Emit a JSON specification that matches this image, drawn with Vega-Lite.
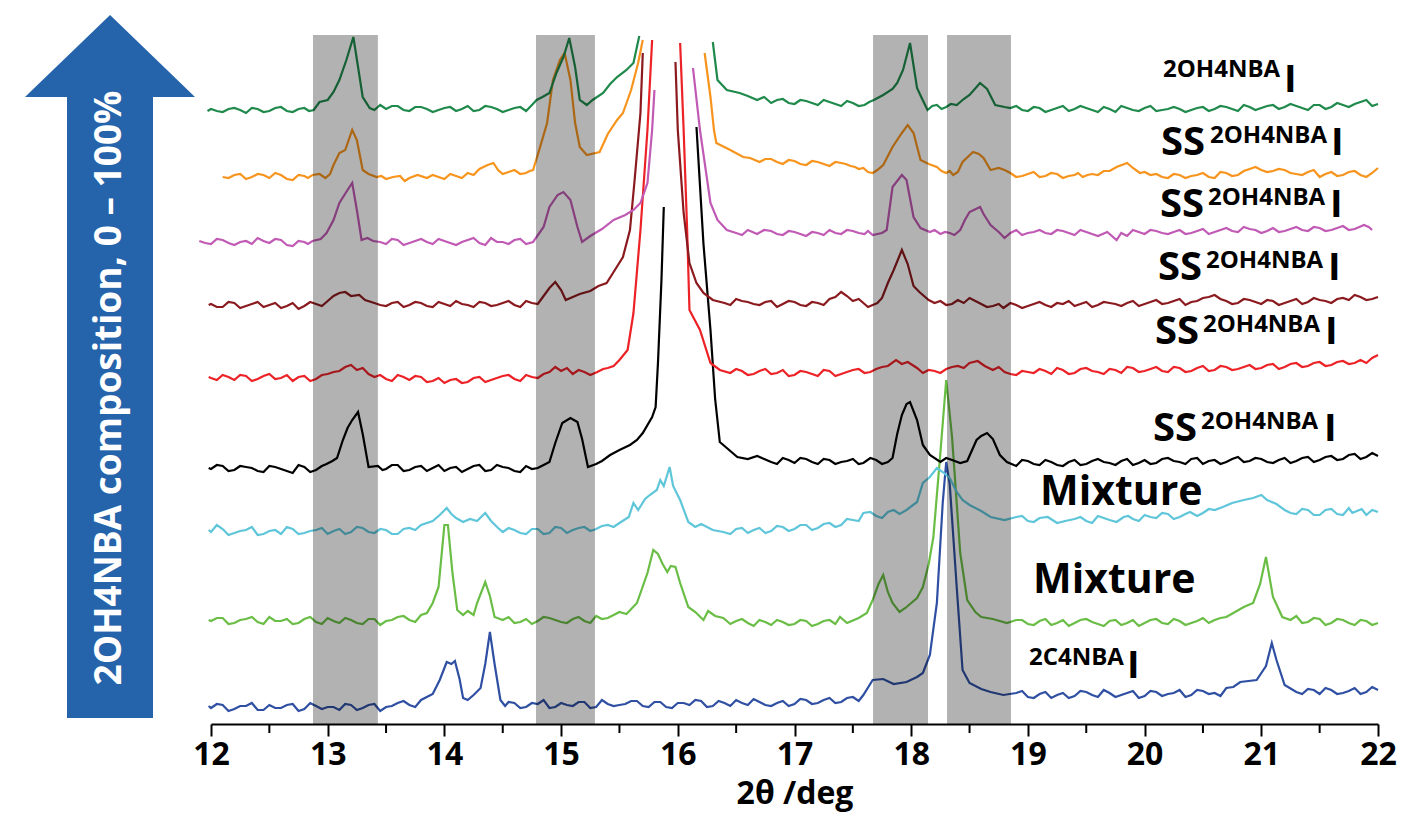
{
"$schema":"https://vega.github.io/schema/vega-lite/v6.json",
"width":1167,"height":689,
"autosize":{"type":"none"},
"padding":{"left":211,"top":35,"right":27,"bottom":91},
"config":{"view":{"stroke":null},"font":"Open Sans"},
"datasets":{
"b":[{"x":11.98,"y":18},{"x":12,"y":16},{"x":12.1,"y":19},{"x":12.2,"y":15},{"x":12.3,"y":18},{"x":12.4,"y":14},{"x":12.5,"y":19},{"x":12.6,"y":16},{"x":12.7,"y":20},{"x":12.8,"y":15},{"x":12.9,"y":18},{"x":13,"y":17},{"x":13.1,"y":14},{"x":13.2,"y":19},{"x":13.3,"y":16},{"x":13.4,"y":20},{"x":13.5,"y":17},{"x":13.6,"y":21},{"x":13.7,"y":19},{"x":13.8,"y":24},{"x":13.9,"y":30},{"x":13.96,"y":44},{"x":14.02,"y":62},{"x":14.06,"y":60},{"x":14.09,"y":63},{"x":14.13,"y":45},{"x":14.16,"y":26},{"x":14.2,"y":24},{"x":14.25,"y":29},{"x":14.31,"y":36},{"x":14.35,"y":60},{"x":14.39,"y":92},{"x":14.43,"y":60},{"x":14.48,"y":24},{"x":14.52,"y":18},{"x":14.6,"y":21},{"x":14.7,"y":17},{"x":14.8,"y":20},{"x":14.9,"y":16},{"x":15,"y":21},{"x":15.1,"y":18},{"x":15.2,"y":22},{"x":15.3,"y":17},{"x":15.4,"y":20},{"x":15.5,"y":19},{"x":15.6,"y":23},{"x":15.7,"y":18},{"x":15.8,"y":22},{"x":15.9,"y":17},{"x":16,"y":21},{"x":16.1,"y":19},{"x":16.2,"y":23},{"x":16.3,"y":18},{"x":16.4,"y":21},{"x":16.5,"y":24},{"x":16.6,"y":19},{"x":16.7,"y":22},{"x":16.8,"y":18},{"x":16.9,"y":23},{"x":17,"y":20},{"x":17.1,"y":24},{"x":17.2,"y":21},{"x":17.3,"y":26},{"x":17.4,"y":22},{"x":17.5,"y":27},{"x":17.59,"y":29},{"x":17.67,"y":44},{"x":17.76,"y":45},{"x":17.85,"y":40},{"x":17.96,"y":42},{"x":18.05,"y":47},{"x":18.1,"y":51},{"x":18.16,"y":69},{"x":18.22,"y":121},{"x":18.27,"y":221},{"x":18.3,"y":262},{"x":18.33,"y":240},{"x":18.39,"y":137},{"x":18.44,"y":54},{"x":18.5,"y":41},{"x":18.6,"y":35},{"x":18.68,"y":32},{"x":18.79,"y":29},{"x":18.9,"y":31},{"x":19,"y":27},{"x":19.1,"y":30},{"x":19.2,"y":26},{"x":19.3,"y":31},{"x":19.4,"y":28},{"x":19.5,"y":32},{"x":19.6,"y":27},{"x":19.7,"y":31},{"x":19.8,"y":29},{"x":19.9,"y":33},{"x":20,"y":28},{"x":20.1,"y":32},{"x":20.2,"y":30},{"x":20.3,"y":34},{"x":20.4,"y":29},{"x":20.5,"y":33},{"x":20.6,"y":31},{"x":20.7,"y":36},{"x":20.82,"y":42},{"x":20.96,"y":44},{"x":21.04,"y":58},{"x":21.09,"y":81},{"x":21.13,"y":64},{"x":21.2,"y":39},{"x":21.3,"y":32},{"x":21.4,"y":35},{"x":21.5,"y":30},{"x":21.6,"y":34},{"x":21.7,"y":31},{"x":21.8,"y":36},{"x":21.9,"y":32},{"x":21.95,"y":37},{"x":22,"y":34},
{"x":12.05,"y":20},{"x":12.15,"y":13},{"x":12.25,"y":18},{"x":12.35,"y":21},{"x":12.45,"y":14},{"x":12.55,"y":16},{"x":12.65,"y":19},{"x":12.75,"y":13},{"x":12.85,"y":21},{"x":12.95,"y":15},{"x":13.05,"y":17},{"x":13.15,"y":20},{"x":13.25,"y":14},{"x":13.35,"y":19},{"x":13.45,"y":13},{"x":13.55,"y":18},{"x":13.65,"y":23},{"x":13.75,"y":17},{"x":14.55,"y":22},{"x":14.65,"y":16},{"x":14.75,"y":21},{"x":14.85,"y":24},{"x":14.95,"y":17},{"x":15.05,"y":19},{"x":15.15,"y":22},{"x":15.25,"y":16},{"x":15.35,"y":24},{"x":15.45,"y":18},{"x":15.55,"y":20},{"x":15.65,"y":23},{"x":15.75,"y":17},{"x":15.85,"y":22},{"x":15.95,"y":16},{"x":16.05,"y":21},{"x":16.15,"y":24},{"x":16.25,"y":17},{"x":16.35,"y":23},{"x":16.45,"y":18},{"x":16.55,"y":21},{"x":16.65,"y":25},{"x":16.75,"y":19},{"x":16.85,"y":21},{"x":16.95,"y":18},{"x":17.05,"y":25},{"x":17.15,"y":20},{"x":17.25,"y":24},{"x":17.35,"y":21},{"x":17.45,"y":26},{"x":17.55,"y":23},{"x":18.95,"y":33},{"x":19.05,"y":26},{"x":19.15,"y":32},{"x":19.25,"y":29},{"x":19.35,"y":26},{"x":19.45,"y":33},{"x":19.55,"y":29},{"x":19.65,"y":34},{"x":19.75,"y":27},{"x":19.85,"y":31},{"x":19.95,"y":26},{"x":20.05,"y":33},{"x":20.15,"y":28},{"x":20.25,"y":31},{"x":20.35,"y":27},{"x":20.45,"y":34},{"x":20.55,"y":30},{"x":20.65,"y":28},{"x":20.76,"y":37},{"x":21.35,"y":30},{"x":21.45,"y":34},{"x":21.55,"y":36},{"x":21.65,"y":30},{"x":21.75,"y":33},{"x":21.85,"y":30}],
"lg":[{"x":11.98,"y":104},{"x":12,"y":103},{"x":12.1,"y":106},{"x":12.2,"y":101},{"x":12.3,"y":105},{"x":12.4,"y":102},{"x":12.5,"y":107},{"x":12.6,"y":103},{"x":12.7,"y":100},{"x":12.8,"y":105},{"x":12.9,"y":102},{"x":13,"y":106},{"x":13.1,"y":101},{"x":13.2,"y":104},{"x":13.3,"y":100},{"x":13.4,"y":105},{"x":13.5,"y":103},{"x":13.6,"y":107},{"x":13.7,"y":104},{"x":13.8,"y":109},{"x":13.85,"y":111},{"x":13.9,"y":121},{"x":13.95,"y":137},{"x":14,"y":199},{"x":14.03,"y":199},{"x":14.07,"y":150},{"x":14.11,"y":114},{"x":14.16,"y":109},{"x":14.2,"y":113},{"x":14.25,"y":109},{"x":14.28,"y":121},{"x":14.35,"y":142},{"x":14.39,"y":128},{"x":14.43,"y":107},{"x":14.5,"y":104},{"x":14.6,"y":101},{"x":14.7,"y":105},{"x":14.8,"y":103},{"x":14.9,"y":106},{"x":15,"y":102},{"x":15.1,"y":105},{"x":15.2,"y":103},{"x":15.3,"y":108},{"x":15.4,"y":106},{"x":15.5,"y":112},{"x":15.56,"y":110},{"x":15.65,"y":121},{"x":15.74,"y":151},{"x":15.79,"y":174},{"x":15.83,"y":170},{"x":15.87,"y":160},{"x":15.91,"y":152},{"x":15.94,"y":158},{"x":15.98,"y":157},{"x":16.02,"y":141},{"x":16.09,"y":117},{"x":16.15,"y":112},{"x":16.22,"y":104},{"x":16.26,"y":113},{"x":16.32,"y":108},{"x":16.39,"y":106},{"x":16.5,"y":103},{"x":16.6,"y":101},{"x":16.7,"y":104},{"x":16.8,"y":99},{"x":16.9,"y":102},{"x":17,"y":100},{"x":17.1,"y":103},{"x":17.2,"y":100},{"x":17.3,"y":104},{"x":17.39,"y":107},{"x":17.45,"y":101},{"x":17.55,"y":106},{"x":17.62,"y":111},{"x":17.67,"y":124},{"x":17.72,"y":140},{"x":17.76,"y":149},{"x":17.8,"y":132},{"x":17.84,"y":121},{"x":17.9,"y":112},{"x":17.95,"y":116},{"x":18,"y":121},{"x":18.05,"y":126},{"x":18.1,"y":137},{"x":18.15,"y":160},{"x":18.19,"y":187},{"x":18.25,"y":271},{"x":18.3,"y":344},{"x":18.35,"y":287},{"x":18.42,"y":171},{"x":18.48,"y":124},{"x":18.55,"y":112},{"x":18.6,"y":107},{"x":18.7,"y":105},{"x":18.82,"y":101},{"x":18.9,"y":104},{"x":19,"y":100},{"x":19.1,"y":103},{"x":19.2,"y":99},{"x":19.3,"y":104},{"x":19.4,"y":101},{"x":19.5,"y":105},{"x":19.6,"y":100},{"x":19.7,"y":103},{"x":19.8,"y":99},{"x":19.9,"y":104},{"x":20,"y":101},{"x":20.1,"y":105},{"x":20.2,"y":100},{"x":20.3,"y":103},{"x":20.4,"y":101},{"x":20.5,"y":106},{"x":20.6,"y":104},{"x":20.7,"y":107},{"x":20.76,"y":111},{"x":20.85,"y":117},{"x":20.93,"y":121},{"x":20.99,"y":140},{"x":21.04,"y":167},{"x":21.1,"y":127},{"x":21.18,"y":107},{"x":21.25,"y":104},{"x":21.3,"y":108},{"x":21.4,"y":102},{"x":21.5,"y":105},{"x":21.6,"y":101},{"x":21.7,"y":104},{"x":21.8,"y":99},{"x":21.9,"y":103},{"x":22,"y":101},
{"x":12.05,"y":106},{"x":12.15,"y":100},{"x":12.25,"y":104},{"x":12.35,"y":107},{"x":12.45,"y":100},{"x":12.55,"y":103},{"x":12.65,"y":105},{"x":12.75,"y":101},{"x":12.85,"y":107},{"x":12.95,"y":100},{"x":13.05,"y":103},{"x":13.15,"y":106},{"x":13.25,"y":101},{"x":13.35,"y":105},{"x":13.45,"y":99},{"x":13.55,"y":104},{"x":13.65,"y":108},{"x":13.75,"y":102},{"x":14.55,"y":107},{"x":14.65,"y":102},{"x":14.75,"y":100},{"x":14.85,"y":107},{"x":14.95,"y":104},{"x":15.05,"y":101},{"x":15.15,"y":107},{"x":15.25,"y":101},{"x":15.35,"y":105},{"x":15.45,"y":109},{"x":16.45,"y":100},{"x":16.55,"y":105},{"x":16.65,"y":98},{"x":16.75,"y":102},{"x":16.85,"y":104},{"x":16.95,"y":99},{"x":17.05,"y":104},{"x":17.15,"y":98},{"x":17.25,"y":103},{"x":17.35,"y":100},{"x":18.95,"y":104},{"x":19.05,"y":99},{"x":19.15,"y":105},{"x":19.25,"y":101},{"x":19.35,"y":98},{"x":19.45,"y":104},{"x":19.55,"y":102},{"x":19.65,"y":98},{"x":19.75,"y":104},{"x":19.85,"y":101},{"x":19.95,"y":98},{"x":20.05,"y":104},{"x":20.15,"y":101},{"x":20.25,"y":105},{"x":20.35,"y":99},{"x":20.45,"y":103},{"x":20.55,"y":101},{"x":20.65,"y":106},{"x":21.35,"y":101},{"x":21.45,"y":106},{"x":21.55,"y":99},{"x":21.65,"y":105},{"x":21.75,"y":101},{"x":21.85,"y":104},{"x":21.95,"y":99}],
"c":[{"x":11.98,"y":194},{"x":12,"y":192},{"x":12.05,"y":199},{"x":12.1,"y":195},{"x":12.2,"y":191},{"x":12.3,"y":194},{"x":12.4,"y":189},{"x":12.5,"y":193},{"x":12.6,"y":190},{"x":12.7,"y":195},{"x":12.8,"y":191},{"x":12.9,"y":194},{"x":13,"y":190},{"x":13.1,"y":195},{"x":13.2,"y":192},{"x":13.3,"y":196},{"x":13.4,"y":191},{"x":13.5,"y":194},{"x":13.6,"y":190},{"x":13.7,"y":196},{"x":13.8,"y":199},{"x":13.9,"y":203},{"x":13.96,"y":209},{"x":14.02,"y":216},{"x":14.06,"y":210},{"x":14.1,"y":206},{"x":14.16,"y":202},{"x":14.22,"y":205},{"x":14.28,"y":203},{"x":14.35,"y":211},{"x":14.4,"y":203},{"x":14.46,"y":196},{"x":14.5,"y":192},{"x":14.6,"y":194},{"x":14.7,"y":190},{"x":14.8,"y":195},{"x":14.9,"y":191},{"x":15,"y":196},{"x":15.1,"y":194},{"x":15.2,"y":197},{"x":15.3,"y":195},{"x":15.4,"y":199},{"x":15.5,"y":201},{"x":15.58,"y":207},{"x":15.62,"y":221},{"x":15.66,"y":214},{"x":15.72,"y":225},{"x":15.76,"y":229},{"x":15.82,"y":234},{"x":15.85,"y":244},{"x":15.88,"y":238},{"x":15.93,"y":257},{"x":15.96,"y":238},{"x":16.02,"y":224},{"x":16.09,"y":202},{"x":16.15,"y":197},{"x":16.2,"y":200},{"x":16.3,"y":194},{"x":16.39,"y":192},{"x":16.5,"y":195},{"x":16.6,"y":191},{"x":16.7,"y":196},{"x":16.8,"y":193},{"x":16.9,"y":197},{"x":17,"y":195},{"x":17.1,"y":199},{"x":17.2,"y":196},{"x":17.3,"y":201},{"x":17.4,"y":199},{"x":17.5,"y":204},{"x":17.59,"y":211},{"x":17.7,"y":208},{"x":17.8,"y":212},{"x":17.9,"y":210},{"x":17.96,"y":214},{"x":18.05,"y":222},{"x":18.1,"y":241},{"x":18.16,"y":247},{"x":18.22,"y":256},{"x":18.27,"y":252},{"x":18.33,"y":246},{"x":18.39,"y":232},{"x":18.44,"y":224},{"x":18.5,"y":219},{"x":18.6,"y":213},{"x":18.68,"y":207},{"x":18.8,"y":204},{"x":18.9,"y":207},{"x":19,"y":203},{"x":19.1,"y":206},{"x":19.25,"y":201},{"x":19.4,"y":205},{"x":19.5,"y":203},{"x":19.6,"y":208},{"x":19.7,"y":204},{"x":19.82,"y":207},{"x":19.9,"y":205},{"x":20,"y":209},{"x":20.1,"y":206},{"x":20.2,"y":210},{"x":20.3,"y":207},{"x":20.39,"y":212},{"x":20.5,"y":211},{"x":20.6,"y":214},{"x":20.67,"y":217},{"x":20.75,"y":221},{"x":20.85,"y":224},{"x":20.93,"y":226},{"x":21,"y":229},{"x":21.05,"y":224},{"x":21.13,"y":220},{"x":21.2,"y":214},{"x":21.25,"y":211},{"x":21.35,"y":215},{"x":21.45,"y":209},{"x":21.55,"y":214},{"x":21.65,"y":210},{"x":21.75,"y":216},{"x":21.82,"y":213},{"x":21.9,"y":209},{"x":22,"y":212},
{"x":12.15,"y":189},{"x":12.25,"y":193},{"x":12.35,"y":197},{"x":12.45,"y":190},{"x":12.55,"y":194},{"x":12.65,"y":197},{"x":12.75,"y":190},{"x":12.85,"y":193},{"x":12.95,"y":196},{"x":13.05,"y":193},{"x":13.15,"y":190},{"x":13.25,"y":197},{"x":13.35,"y":192},{"x":13.45,"y":195},{"x":13.55,"y":190},{"x":13.65,"y":195},{"x":13.75,"y":194},{"x":14.55,"y":196},{"x":14.65,"y":191},{"x":14.75,"y":195},{"x":14.85,"y":190},{"x":14.95,"y":197},{"x":15.05,"y":191},{"x":15.15,"y":196},{"x":15.25,"y":193},{"x":15.35,"y":198},{"x":15.45,"y":197},{"x":16.45,"y":190},{"x":16.55,"y":196},{"x":16.65,"y":194},{"x":16.75,"y":191},{"x":16.85,"y":198},{"x":16.95,"y":193},{"x":17.05,"y":199},{"x":17.15,"y":194},{"x":17.25,"y":200},{"x":17.35,"y":197},{"x":17.45,"y":205},{"x":17.55,"y":203},{"x":17.65,"y":212},{"x":17.75,"y":206},{"x":17.85,"y":214},{"x":18.95,"y":208},{"x":19.05,"y":202},{"x":19.17,"y":207},{"x":19.32,"y":203},{"x":19.45,"y":207},{"x":19.55,"y":201},{"x":19.65,"y":206},{"x":19.76,"y":202},{"x":19.86,"y":208},{"x":19.95,"y":203},{"x":20.05,"y":207},{"x":20.15,"y":211},{"x":20.25,"y":205},{"x":20.35,"y":210},{"x":20.45,"y":208},{"x":20.55,"y":215},{"x":21.3,"y":210},{"x":21.4,"y":214},{"x":21.5,"y":209},{"x":21.6,"y":215},{"x":21.7,"y":209},{"x":21.78,"y":211},{"x":21.86,"y":215},{"x":21.95,"y":214}],
"k":[{"x":11.98,"y":256},{"x":12,"y":255},{"x":12.1,"y":258},{"x":12.2,"y":254},{"x":12.3,"y":257},{"x":12.4,"y":253},{"x":12.5,"y":258},{"x":12.6,"y":255},{"x":12.7,"y":251},{"x":12.8,"y":257},{"x":12.9,"y":254},{"x":12.99,"y":260},{"x":13.04,"y":263},{"x":13.08,"y":266},{"x":13.13,"y":284},{"x":13.17,"y":296},{"x":13.21,"y":304},{"x":13.26,"y":312},{"x":13.3,"y":290},{"x":13.35,"y":257},{"x":13.43,"y":258},{"x":13.5,"y":255},{"x":13.6,"y":259},{"x":13.7,"y":254},{"x":13.8,"y":258},{"x":13.9,"y":256},{"x":14,"y":253},{"x":14.1,"y":257},{"x":14.2,"y":255},{"x":14.3,"y":259},{"x":14.4,"y":254},{"x":14.5,"y":257},{"x":14.6,"y":253},{"x":14.7,"y":258},{"x":14.8,"y":256},{"x":14.9,"y":262},{"x":14.95,"y":281},{"x":15.01,"y":301},{"x":15.08,"y":306},{"x":15.14,"y":302},{"x":15.18,"y":285},{"x":15.23,"y":257},{"x":15.3,"y":260},{"x":15.35,"y":263},{"x":15.42,"y":269},{"x":15.5,"y":274},{"x":15.59,"y":279},{"x":15.65,"y":284},{"x":15.7,"y":291},{"x":15.78,"y":307},{"x":15.81,"y":317},{"x":15.83,"y":361},{"x":15.86,"y":444},{"x":15.88,"y":517},
{"x":12.05,"y":259},{"x":12.15,"y":253},{"x":12.25,"y":258},{"x":12.35,"y":256},{"x":12.45,"y":252},{"x":12.55,"y":257},{"x":12.65,"y":253},{"x":12.75,"y":259},{"x":12.85,"y":252},{"x":12.95,"y":258},{"x":13.47,"y":254},{"x":13.55,"y":259},{"x":13.65,"y":253},{"x":13.75,"y":257},{"x":13.85,"y":253},{"x":13.95,"y":259},{"x":14.05,"y":256},{"x":14.15,"y":252},{"x":14.25,"y":258},{"x":14.35,"y":253},{"x":14.45,"y":259},{"x":14.55,"y":256},{"x":14.65,"y":252},{"x":14.75,"y":255},{"x":14.85,"y":259},
{"x":16.16,"y":597,"p":1},{"x":16.22,"y":480,"p":1},{"x":16.28,"y":394,"p":1},{"x":16.32,"y":325,"p":1},{"x":16.36,"y":282,"p":1},{"x":16.42,"y":276,"p":1},{"x":16.51,"y":267,"p":1},{"x":16.6,"y":265,"p":1},{"x":16.68,"y":268,"p":1},{"x":16.8,"y":262,"p":1},{"x":16.9,"y":266,"p":1},{"x":17,"y":261,"p":1},{"x":17.1,"y":265,"p":1},{"x":17.2,"y":260,"p":1},{"x":17.3,"y":264,"p":1},{"x":17.4,"y":262,"p":1},{"x":17.5,"y":265,"p":1},{"x":17.59,"y":261,"p":1},{"x":17.7,"y":264,"p":1},{"x":17.8,"y":262,"p":1},{"x":17.84,"y":266,"p":1},{"x":17.88,"y":290,"p":1},{"x":17.92,"y":309,"p":1},{"x":17.96,"y":320,"p":1},{"x":17.99,"y":322,"p":1},{"x":18.05,"y":304,"p":1},{"x":18.1,"y":279,"p":1},{"x":18.16,"y":269,"p":1},{"x":18.25,"y":262,"p":1},{"x":18.35,"y":264,"p":1},{"x":18.48,"y":263,"p":1},{"x":18.56,"y":284,"p":1},{"x":18.6,"y":288,"p":1},{"x":18.65,"y":291,"p":1},{"x":18.7,"y":285,"p":1},{"x":18.76,"y":269,"p":1},{"x":18.82,"y":262,"p":1},{"x":18.9,"y":258,"p":1},{"x":19,"y":263,"p":1},{"x":19.1,"y":259,"p":1},{"x":19.2,"y":262,"p":1},{"x":19.3,"y":258,"p":1},{"x":19.4,"y":264,"p":1},{"x":19.5,"y":260,"p":1},{"x":19.6,"y":265,"p":1},{"x":19.7,"y":261,"p":1},{"x":19.8,"y":263,"p":1},{"x":19.9,"y":259,"p":1},{"x":20,"y":264,"p":1},{"x":20.1,"y":261,"p":1},{"x":20.2,"y":266,"p":1},{"x":20.3,"y":262,"p":1},{"x":20.4,"y":265,"p":1},{"x":20.5,"y":260,"p":1},{"x":20.6,"y":264,"p":1},{"x":20.7,"y":262,"p":1},{"x":20.8,"y":267,"p":1},{"x":20.9,"y":263,"p":1},{"x":21,"y":265,"p":1},{"x":21.1,"y":261,"p":1},{"x":21.2,"y":266,"p":1},{"x":21.3,"y":263,"p":1},{"x":21.4,"y":267,"p":1},{"x":21.5,"y":264,"p":1},{"x":21.6,"y":268,"p":1},{"x":21.7,"y":265,"p":1},{"x":21.8,"y":270,"p":1},{"x":21.9,"y":267,"p":1},{"x":22,"y":268,"p":1},
{"x":16.74,"y":265,"p":1},{"x":16.85,"y":260,"p":1},{"x":16.95,"y":264,"p":1},{"x":17.05,"y":266,"p":1},{"x":17.15,"y":262,"p":1},{"x":17.25,"y":265,"p":1},{"x":17.35,"y":260,"p":1},{"x":17.45,"y":263,"p":1},{"x":17.55,"y":260,"p":1},{"x":17.65,"y":266,"p":1},{"x":17.75,"y":260,"p":1},{"x":18.3,"y":266,"p":1},{"x":18.42,"y":261,"p":1},{"x":18.95,"y":264,"p":1},{"x":19.05,"y":260,"p":1},{"x":19.15,"y":264,"p":1},{"x":19.25,"y":259,"p":1},{"x":19.35,"y":262,"p":1},{"x":19.45,"y":259,"p":1},{"x":19.55,"y":263,"p":1},{"x":19.65,"y":262,"p":1},{"x":19.75,"y":259,"p":1},{"x":19.85,"y":265,"p":1},{"x":19.95,"y":261,"p":1},{"x":20.05,"y":260,"p":1},{"x":20.15,"y":265,"p":1},{"x":20.25,"y":263,"p":1},{"x":20.35,"y":260,"p":1},{"x":20.45,"y":266,"p":1},{"x":20.55,"y":263,"p":1},{"x":20.65,"y":260,"p":1},{"x":20.75,"y":265,"p":1},{"x":20.85,"y":262,"p":1},{"x":20.95,"y":266,"p":1},{"x":21.05,"y":262,"p":1},{"x":21.15,"y":264,"p":1},{"x":21.25,"y":261,"p":1},{"x":21.35,"y":266,"p":1},{"x":21.45,"y":262,"p":1},{"x":21.55,"y":267,"p":1},{"x":21.65,"y":264,"p":1},{"x":21.75,"y":269,"p":1},{"x":21.85,"y":265,"p":1},{"x":21.95,"y":271,"p":1}],
"r":[{"x":11.98,"y":347},{"x":12,"y":346},{"x":12.1,"y":349},{"x":12.2,"y":344},{"x":12.3,"y":348},{"x":12.4,"y":345},{"x":12.5,"y":350},{"x":12.6,"y":346},{"x":12.7,"y":343},{"x":12.8,"y":348},{"x":12.9,"y":345},{"x":13,"y":350},{"x":13.1,"y":353},{"x":13.15,"y":357},{"x":13.2,"y":359},{"x":13.25,"y":354},{"x":13.3,"y":356},{"x":13.35,"y":350},{"x":13.4,"y":347},{"x":13.5,"y":345},{"x":13.6,"y":349},{"x":13.7,"y":344},{"x":13.8,"y":347},{"x":13.9,"y":343},{"x":14,"y":341},{"x":14.1,"y":345},{"x":14.2,"y":342},{"x":14.3,"y":347},{"x":14.4,"y":344},{"x":14.5,"y":348},{"x":14.6,"y":345},{"x":14.7,"y":349},{"x":14.8,"y":346},{"x":14.9,"y":352},{"x":14.95,"y":357},{"x":15,"y":353},{"x":15.05,"y":356},{"x":15.1,"y":350},{"x":15.2,"y":352},{"x":15.31,"y":352},{"x":15.4,"y":356},{"x":15.5,"y":364},{"x":15.57,"y":374},{"x":15.62,"y":411},{"x":15.68,"y":494},{"x":15.74,"y":594},{"x":15.78,"y":684},
{"x":12.05,"y":344},{"x":12.15,"y":347},{"x":12.25,"y":349},{"x":12.35,"y":343},{"x":12.45,"y":348},{"x":12.55,"y":345},{"x":12.65,"y":349},{"x":12.75,"y":347},{"x":12.85,"y":343},{"x":12.95,"y":349},{"x":13.05,"y":352},{"x":13.45,"y":349},{"x":13.55,"y":343},{"x":13.65,"y":347},{"x":13.75,"y":348},{"x":13.85,"y":342},{"x":13.95,"y":346},{"x":14.05,"y":344},{"x":14.15,"y":341},{"x":14.25,"y":346},{"x":14.35,"y":342},{"x":14.45,"y":346},{"x":14.55,"y":349},{"x":14.65,"y":343},{"x":14.75,"y":347},{"x":14.85,"y":350},{"x":15.15,"y":354},{"x":15.25,"y":349},{"x":15.36,"y":355},{"x":15.45,"y":358},
{"x":16.02,"y":681,"p":1},{"x":16.05,"y":594,"p":1},{"x":16.08,"y":494,"p":1},{"x":16.1,"y":414,"p":1},{"x":16.19,"y":394,"p":1},{"x":16.28,"y":361,"p":1},{"x":16.36,"y":354,"p":1},{"x":16.45,"y":351,"p":1},{"x":16.5,"y":355,"p":1},{"x":16.6,"y":349,"p":1},{"x":16.7,"y":353,"p":1},{"x":16.8,"y":350,"p":1},{"x":16.9,"y":354,"p":1},{"x":17,"y":349,"p":1},{"x":17.1,"y":352,"p":1},{"x":17.2,"y":348,"p":1},{"x":17.3,"y":353,"p":1},{"x":17.4,"y":350,"p":1},{"x":17.5,"y":354,"p":1},{"x":17.6,"y":351,"p":1},{"x":17.7,"y":355,"p":1},{"x":17.8,"y":358,"p":1},{"x":17.87,"y":364,"p":1},{"x":17.92,"y":360,"p":1},{"x":17.97,"y":362,"p":1},{"x":18.05,"y":356,"p":1},{"x":18.1,"y":351,"p":1},{"x":18.2,"y":353,"p":1},{"x":18.3,"y":355,"p":1},{"x":18.4,"y":358,"p":1},{"x":18.5,"y":361,"p":1},{"x":18.57,"y":363,"p":1},{"x":18.63,"y":358,"p":1},{"x":18.7,"y":354,"p":1},{"x":18.8,"y":352,"p":1},{"x":18.9,"y":349,"p":1},{"x":19,"y":352,"p":1},{"x":19.1,"y":355,"p":1},{"x":19.2,"y":350,"p":1},{"x":19.3,"y":354,"p":1},{"x":19.4,"y":351,"p":1},{"x":19.5,"y":356,"p":1},{"x":19.6,"y":352,"p":1},{"x":19.7,"y":355,"p":1},{"x":19.8,"y":351,"p":1},{"x":19.9,"y":356,"p":1},{"x":20,"y":353,"p":1},{"x":20.1,"y":357,"p":1},{"x":20.2,"y":352,"p":1},{"x":20.3,"y":356,"p":1},{"x":20.4,"y":353,"p":1},{"x":20.5,"y":358,"p":1},{"x":20.6,"y":354,"p":1},{"x":20.7,"y":357,"p":1},{"x":20.8,"y":355,"p":1},{"x":20.9,"y":359,"p":1},{"x":21,"y":356,"p":1},{"x":21.1,"y":360,"p":1},{"x":21.2,"y":357,"p":1},{"x":21.3,"y":361,"p":1},{"x":21.4,"y":358,"p":1},{"x":21.5,"y":362,"p":1},{"x":21.6,"y":359,"p":1},{"x":21.7,"y":363,"p":1},{"x":21.8,"y":361,"p":1},{"x":21.85,"y":364,"p":1},{"x":21.9,"y":361,"p":1},{"x":21.95,"y":366,"p":1},{"x":22,"y":369,"p":1},
{"x":16.55,"y":353,"p":1},{"x":16.65,"y":350,"p":1},{"x":16.75,"y":355,"p":1},{"x":16.85,"y":351,"p":1},{"x":16.95,"y":348,"p":1},{"x":17.05,"y":353,"p":1},{"x":17.15,"y":350,"p":1},{"x":17.25,"y":354,"p":1},{"x":17.35,"y":348,"p":1},{"x":17.45,"y":352,"p":1},{"x":17.55,"y":355,"p":1},{"x":17.65,"y":352,"p":1},{"x":17.75,"y":357,"p":1},{"x":18.15,"y":354,"p":1},{"x":18.25,"y":351,"p":1},{"x":18.35,"y":357,"p":1},{"x":18.45,"y":356,"p":1},{"x":18.75,"y":357,"p":1},{"x":18.85,"y":350,"p":1},{"x":18.95,"y":353,"p":1},{"x":19.05,"y":351,"p":1},{"x":19.15,"y":353,"p":1},{"x":19.25,"y":356,"p":1},{"x":19.35,"y":350,"p":1},{"x":19.45,"y":355,"p":1},{"x":19.55,"y":353,"p":1},{"x":19.65,"y":350,"p":1},{"x":19.75,"y":354,"p":1},{"x":19.85,"y":357,"p":1},{"x":19.95,"y":352,"p":1},{"x":20.05,"y":355,"p":1},{"x":20.15,"y":353,"p":1},{"x":20.25,"y":357,"p":1},{"x":20.35,"y":352,"p":1},{"x":20.45,"y":356,"p":1},{"x":20.55,"y":353,"p":1},{"x":20.65,"y":358,"p":1},{"x":20.75,"y":354,"p":1},{"x":20.85,"y":357,"p":1},{"x":20.95,"y":355,"p":1},{"x":21.05,"y":359,"p":1},{"x":21.15,"y":355,"p":1},{"x":21.25,"y":360,"p":1},{"x":21.35,"y":357,"p":1},{"x":21.45,"y":361,"p":1},{"x":21.55,"y":358,"p":1},{"x":21.65,"y":362,"p":1},{"x":21.75,"y":360,"p":1}],
"m":[{"x":11.98,"y":419},{"x":12,"y":420},{"x":12.1,"y":417},{"x":12.2,"y":421},{"x":12.3,"y":418},{"x":12.4,"y":422},{"x":12.5,"y":419},{"x":12.6,"y":416},{"x":12.7,"y":421},{"x":12.8,"y":418},{"x":12.9,"y":420},{"x":13,"y":423},{"x":13.05,"y":428},{"x":13.1,"y":431},{"x":13.15,"y":432},{"x":13.2,"y":428},{"x":13.27,"y":429},{"x":13.32,"y":424},{"x":13.4,"y":421},{"x":13.5,"y":418},{"x":13.6,"y":422},{"x":13.7,"y":419},{"x":13.8,"y":421},{"x":13.9,"y":417},{"x":14,"y":420},{"x":14.1,"y":423},{"x":14.2,"y":419},{"x":14.3,"y":422},{"x":14.4,"y":418},{"x":14.5,"y":421},{"x":14.6,"y":419},{"x":14.7,"y":423},{"x":14.8,"y":420},{"x":14.85,"y":428},{"x":14.9,"y":436},{"x":14.95,"y":442},{"x":15,"y":434},{"x":15.04,"y":424},{"x":15.1,"y":427},{"x":15.16,"y":430},{"x":15.25,"y":433},{"x":15.32,"y":438},{"x":15.39,"y":441},{"x":15.45,"y":452},{"x":15.53,"y":467},{"x":15.59,"y":494},{"x":15.63,"y":544},{"x":15.68,"y":611},{"x":15.7,"y":671},
{"x":12.05,"y":417},{"x":12.15,"y":422},{"x":12.25,"y":416},{"x":12.35,"y":420},{"x":12.45,"y":417},{"x":12.55,"y":421},{"x":12.65,"y":418},{"x":12.75,"y":415},{"x":12.85,"y":422},{"x":12.95,"y":418},{"x":13.45,"y":419},{"x":13.55,"y":421},{"x":13.65,"y":417},{"x":13.75,"y":422},{"x":13.85,"y":418},{"x":13.95,"y":422},{"x":14.05,"y":418},{"x":14.15,"y":420},{"x":14.25,"y":417},{"x":14.35,"y":421},{"x":14.45,"y":419},{"x":14.55,"y":423},{"x":14.65,"y":417},{"x":14.75,"y":421},
{"x":15.98,"y":662,"p":1},{"x":16,"y":594,"p":1},{"x":16.05,"y":511,"p":1},{"x":16.1,"y":461,"p":1},{"x":16.16,"y":441,"p":1},{"x":16.22,"y":431,"p":1},{"x":16.3,"y":424,"p":1},{"x":16.4,"y":421,"p":1},{"x":16.5,"y":425,"p":1},{"x":16.6,"y":422,"p":1},{"x":16.7,"y":419,"p":1},{"x":16.8,"y":423,"p":1},{"x":16.9,"y":420,"p":1},{"x":17,"y":422,"p":1},{"x":17.1,"y":418,"p":1},{"x":17.2,"y":421,"p":1},{"x":17.3,"y":425,"p":1},{"x":17.4,"y":432,"p":1},{"x":17.45,"y":428,"p":1},{"x":17.5,"y":423,"p":1},{"x":17.6,"y":420,"p":1},{"x":17.67,"y":419,"p":1},{"x":17.75,"y":426,"p":1},{"x":17.8,"y":441,"p":1},{"x":17.85,"y":454,"p":1},{"x":17.92,"y":474,"p":1},{"x":17.97,"y":460,"p":1},{"x":18.02,"y":438,"p":1},{"x":18.07,"y":432,"p":1},{"x":18.15,"y":424,"p":1},{"x":18.2,"y":421,"p":1},{"x":18.3,"y":419,"p":1},{"x":18.4,"y":424,"p":1},{"x":18.5,"y":426,"p":1},{"x":18.6,"y":420,"p":1},{"x":18.7,"y":418,"p":1},{"x":18.79,"y":416,"p":1},{"x":18.9,"y":419,"p":1},{"x":19,"y":418,"p":1},{"x":19.1,"y":422,"p":1},{"x":19.2,"y":417,"p":1},{"x":19.3,"y":420,"p":1},{"x":19.4,"y":418,"p":1},{"x":19.5,"y":422,"p":1},{"x":19.6,"y":419,"p":1},{"x":19.7,"y":421,"p":1},{"x":19.8,"y":418,"p":1},{"x":19.9,"y":423,"p":1},{"x":20,"y":420,"p":1},{"x":20.1,"y":424,"p":1},{"x":20.2,"y":421,"p":1},{"x":20.3,"y":425,"p":1},{"x":20.4,"y":422,"p":1},{"x":20.5,"y":426,"p":1},{"x":20.6,"y":429,"p":1},{"x":20.7,"y":423,"p":1},{"x":20.8,"y":421,"p":1},{"x":20.9,"y":424,"p":1},{"x":21,"y":420,"p":1},{"x":21.1,"y":423,"p":1},{"x":21.2,"y":421,"p":1},{"x":21.3,"y":425,"p":1},{"x":21.4,"y":422,"p":1},{"x":21.5,"y":424,"p":1},{"x":21.6,"y":421,"p":1},{"x":21.7,"y":426,"p":1},{"x":21.8,"y":429,"p":1},{"x":21.9,"y":424,"p":1},{"x":22,"y":427,"p":1},
{"x":16.45,"y":419,"p":1},{"x":16.55,"y":423,"p":1},{"x":16.65,"y":420,"p":1},{"x":16.75,"y":422,"p":1},{"x":16.85,"y":417,"p":1},{"x":16.95,"y":423,"p":1},{"x":17.05,"y":419,"p":1},{"x":17.15,"y":422,"p":1},{"x":17.25,"y":419,"p":1},{"x":17.35,"y":427,"p":1},{"x":17.55,"y":425,"p":1},{"x":17.63,"y":417,"p":1},{"x":17.71,"y":421,"p":1},{"x":18.25,"y":423,"p":1},{"x":18.35,"y":420,"p":1},{"x":18.45,"y":421,"p":1},{"x":18.55,"y":423,"p":1},{"x":18.65,"y":417,"p":1},{"x":18.75,"y":420,"p":1},{"x":18.85,"y":421,"p":1},{"x":18.95,"y":416,"p":1},{"x":19.05,"y":420,"p":1},{"x":19.15,"y":419,"p":1},{"x":19.25,"y":421,"p":1},{"x":19.35,"y":423,"p":1},{"x":19.45,"y":420,"p":1},{"x":19.55,"y":417,"p":1},{"x":19.65,"y":422,"p":1},{"x":19.75,"y":420,"p":1},{"x":19.85,"y":421,"p":1},{"x":19.95,"y":418,"p":1},{"x":20.05,"y":422,"p":1},{"x":20.15,"y":420,"p":1},{"x":20.25,"y":423,"p":1},{"x":20.35,"y":419,"p":1},{"x":20.45,"y":423,"p":1},{"x":20.55,"y":427,"p":1},{"x":20.65,"y":425,"p":1},{"x":20.75,"y":420,"p":1},{"x":20.85,"y":425,"p":1},{"x":20.95,"y":422,"p":1},{"x":21.05,"y":424,"p":1},{"x":21.15,"y":419,"p":1},{"x":21.25,"y":423,"p":1},{"x":21.35,"y":420,"p":1},{"x":21.45,"y":426,"p":1},{"x":21.55,"y":423,"p":1},{"x":21.65,"y":425,"p":1},{"x":21.75,"y":424,"p":1},{"x":21.85,"y":427,"p":1},{"x":21.95,"y":425,"p":1}],
"pm":[{"x":11.9,"y":483},{"x":12,"y":480},{"x":12.1,"y":484},{"x":12.2,"y":479},{"x":12.3,"y":483},{"x":12.4,"y":486},{"x":12.5,"y":481},{"x":12.6,"y":484},{"x":12.7,"y":478},{"x":12.8,"y":482},{"x":12.87,"y":483},{"x":12.94,"y":485},{"x":12.99,"y":491},{"x":13.05,"y":504},{"x":13.1,"y":521},{"x":13.17,"y":534},{"x":13.21,"y":541},{"x":13.25,"y":514},{"x":13.29,"y":484},{"x":13.39,"y":483},{"x":13.5,"y":480},{"x":13.6,"y":484},{"x":13.7,"y":481},{"x":13.8,"y":485},{"x":13.9,"y":480},{"x":14,"y":483},{"x":14.1,"y":479},{"x":14.2,"y":484},{"x":14.3,"y":481},{"x":14.4,"y":486},{"x":14.5,"y":482},{"x":14.6,"y":484},{"x":14.7,"y":480},{"x":14.76,"y":482},{"x":14.85,"y":497},{"x":14.9,"y":517},{"x":14.97,"y":529},{"x":15.02,"y":532},{"x":15.08,"y":524},{"x":15.14,"y":497},{"x":15.18,"y":482},{"x":15.25,"y":488},{"x":15.35,"y":495},{"x":15.45,"y":504},{"x":15.55,"y":509},{"x":15.62,"y":514},{"x":15.68,"y":521},{"x":15.74,"y":541},{"x":15.78,"y":594},{"x":15.8,"y":634},
{"x":11.95,"y":481},{"x":12.05,"y":485},{"x":12.15,"y":481},{"x":12.25,"y":482},{"x":12.35,"y":480},{"x":12.45,"y":483},{"x":12.55,"y":485},{"x":12.65,"y":479},{"x":12.75,"y":483},{"x":12.83,"y":480},{"x":13.34,"y":486},{"x":13.45,"y":482},{"x":13.55,"y":485},{"x":13.65,"y":479},{"x":13.75,"y":483},{"x":13.85,"y":482},{"x":13.95,"y":485},{"x":14.05,"y":481},{"x":14.15,"y":482},{"x":14.25,"y":486},{"x":14.35,"y":479},{"x":14.45,"y":482},{"x":14.55,"y":480},{"x":14.65,"y":485},
{"x":16.13,"y":656,"p":1},{"x":16.19,"y":594,"p":1},{"x":16.28,"y":521,"p":1},{"x":16.34,"y":504,"p":1},{"x":16.42,"y":494,"p":1},{"x":16.5,"y":491,"p":1},{"x":16.6,"y":494,"p":1},{"x":16.68,"y":490,"p":1},{"x":16.8,"y":493,"p":1},{"x":16.9,"y":489,"p":1},{"x":17,"y":492,"p":1},{"x":17.1,"y":488,"p":1},{"x":17.2,"y":491,"p":1},{"x":17.3,"y":494,"p":1},{"x":17.4,"y":490,"p":1},{"x":17.5,"y":493,"p":1},{"x":17.6,"y":490,"p":1},{"x":17.67,"y":489,"p":1},{"x":17.75,"y":491,"p":1},{"x":17.79,"y":494,"p":1},{"x":17.84,"y":537,"p":1},{"x":17.92,"y":549,"p":1},{"x":17.96,"y":544,"p":1},{"x":18.02,"y":507,"p":1},{"x":18.08,"y":496,"p":1},{"x":18.16,"y":492,"p":1},{"x":18.25,"y":490,"p":1},{"x":18.33,"y":491,"p":1},{"x":18.42,"y":494,"p":1},{"x":18.46,"y":504,"p":1},{"x":18.5,"y":512,"p":1},{"x":18.59,"y":517,"p":1},{"x":18.62,"y":510,"p":1},{"x":18.68,"y":499,"p":1},{"x":18.75,"y":492,"p":1},{"x":18.8,"y":486,"p":1},{"x":18.9,"y":494,"p":1},{"x":19,"y":491,"p":1},{"x":19.1,"y":494,"p":1},{"x":19.2,"y":490,"p":1},{"x":19.3,"y":493,"p":1},{"x":19.4,"y":489,"p":1},{"x":19.5,"y":492,"p":1},{"x":19.6,"y":488,"p":1},{"x":19.76,"y":484,"p":1},{"x":19.8,"y":491,"p":1},{"x":19.9,"y":494,"p":1},{"x":20,"y":490,"p":1},{"x":20.1,"y":493,"p":1},{"x":20.2,"y":490,"p":1},{"x":20.3,"y":494,"p":1},{"x":20.4,"y":491,"p":1},{"x":20.5,"y":495,"p":1},{"x":20.6,"y":492,"p":1},{"x":20.7,"y":496,"p":1},{"x":20.8,"y":492,"p":1},{"x":20.9,"y":495,"p":1},{"x":21,"y":491,"p":1},{"x":21.1,"y":496,"p":1},{"x":21.2,"y":493,"p":1},{"x":21.3,"y":497,"p":1},{"x":21.4,"y":493,"p":1},{"x":21.5,"y":496,"p":1},{"x":21.6,"y":494,"p":1},{"x":21.7,"y":498,"p":1},{"x":21.8,"y":495,"p":1},{"x":21.88,"y":499,"p":1},{"x":21.95,"y":494,"p":1},
{"x":16.55,"y":489,"p":1},{"x":16.64,"y":492,"p":1},{"x":16.74,"y":494,"p":1},{"x":16.85,"y":490,"p":1},{"x":16.95,"y":493,"p":1},{"x":17.05,"y":490,"p":1},{"x":17.15,"y":492,"p":1},{"x":17.25,"y":489,"p":1},{"x":17.35,"y":491,"p":1},{"x":17.45,"y":494,"p":1},{"x":17.55,"y":491,"p":1},{"x":17.63,"y":493,"p":1},{"x":18.2,"y":494,"p":1},{"x":18.29,"y":492,"p":1},{"x":18.37,"y":489,"p":1},{"x":18.85,"y":491,"p":1},{"x":18.95,"y":489,"p":1},{"x":19.05,"y":492,"p":1},{"x":19.15,"y":491,"p":1},{"x":19.25,"y":494,"p":1},{"x":19.35,"y":491,"p":1},{"x":19.45,"y":494,"p":1},{"x":19.55,"y":490,"p":1},{"x":19.68,"y":492,"p":1},{"x":19.85,"y":488,"p":1},{"x":19.95,"y":492,"p":1},{"x":20.05,"y":494,"p":1},{"x":20.15,"y":491,"p":1},{"x":20.25,"y":492,"p":1},{"x":20.35,"y":490,"p":1},{"x":20.45,"y":493,"p":1},{"x":20.55,"y":490,"p":1},{"x":20.65,"y":494,"p":1},{"x":20.75,"y":493,"p":1},{"x":20.85,"y":497,"p":1},{"x":20.95,"y":494,"p":1},{"x":21.05,"y":493,"p":1},{"x":21.15,"y":492,"p":1},{"x":21.25,"y":495,"p":1},{"x":21.35,"y":494,"p":1},{"x":21.45,"y":497,"p":1},{"x":21.55,"y":493,"p":1},{"x":21.65,"y":496,"p":1},{"x":21.75,"y":494,"p":1},{"x":21.84,"y":497,"p":1},{"x":21.92,"y":497,"p":1}],
"o":[{"x":12.1,"y":547},{"x":12.2,"y":549},{"x":12.3,"y":545},{"x":12.4,"y":550},{"x":12.5,"y":546},{"x":12.6,"y":549},{"x":12.7,"y":544},{"x":12.8,"y":548},{"x":12.87,"y":549},{"x":12.98,"y":546},{"x":13.05,"y":559},{"x":13.1,"y":571},{"x":13.15,"y":574},{"x":13.21,"y":594},{"x":13.25,"y":584},{"x":13.3,"y":554},{"x":13.35,"y":550},{"x":13.42,"y":547},{"x":13.5,"y":545},{"x":13.62,"y":548},{"x":13.7,"y":546},{"x":13.85,"y":546},{"x":13.9,"y":549},{"x":14,"y":545},{"x":14.1,"y":548},{"x":14.2,"y":551},{"x":14.3,"y":555},{"x":14.37,"y":559},{"x":14.42,"y":561},{"x":14.5,"y":550},{"x":14.6,"y":554},{"x":14.7,"y":551},{"x":14.76,"y":554},{"x":14.82,"y":577},{"x":14.88,"y":601},{"x":14.93,"y":644},{"x":14.99,"y":664},{"x":15.03,"y":671},{"x":15.08,"y":644},{"x":15.12,"y":601},{"x":15.16,"y":577},{"x":15.22,"y":569},{"x":15.33,"y":572},{"x":15.4,"y":590},{"x":15.48,"y":604},{"x":15.53,"y":611},{"x":15.6,"y":634},{"x":15.66,"y":661},{"x":15.7,"y":684},
{"x":12.15,"y":546},{"x":12.25,"y":550},{"x":12.35,"y":547},{"x":12.45,"y":549},{"x":12.55,"y":551},{"x":12.65,"y":545},{"x":12.75,"y":549},{"x":12.83,"y":546},{"x":12.93,"y":550},{"x":13.02,"y":550},{"x":13.46,"y":548},{"x":13.56,"y":547},{"x":13.66,"y":543},{"x":13.77,"y":549},{"x":13.95,"y":547},{"x":14.05,"y":550},{"x":14.15,"y":546},{"x":14.25,"y":549},{"x":14.46,"y":554},{"x":14.55,"y":552},{"x":14.65,"y":550},{"x":14.73,"y":553},
{"x":16.23,"y":671,"p":1},{"x":16.28,"y":627,"p":1},{"x":16.31,"y":594,"p":1},{"x":16.33,"y":581,"p":1},{"x":16.45,"y":574,"p":1},{"x":16.56,"y":567,"p":1},{"x":16.62,"y":566,"p":1},{"x":16.7,"y":562,"p":1},{"x":16.8,"y":565,"p":1},{"x":16.9,"y":560,"p":1},{"x":17,"y":563,"p":1},{"x":17.1,"y":559,"p":1},{"x":17.2,"y":562,"p":1},{"x":17.3,"y":558,"p":1},{"x":17.4,"y":561,"p":1},{"x":17.48,"y":558,"p":1},{"x":17.55,"y":555,"p":1},{"x":17.63,"y":552,"p":1},{"x":17.71,"y":554,"p":1},{"x":17.76,"y":559,"p":1},{"x":17.84,"y":577,"p":1},{"x":17.92,"y":591,"p":1},{"x":17.97,"y":599,"p":1},{"x":18.02,"y":591,"p":1},{"x":18.08,"y":564,"p":1},{"x":18.15,"y":560,"p":1},{"x":18.22,"y":557,"p":1},{"x":18.3,"y":551,"p":1},{"x":18.36,"y":549,"p":1},{"x":18.44,"y":562,"p":1},{"x":18.53,"y":572,"p":1},{"x":18.58,"y":570,"p":1},{"x":18.62,"y":566,"p":1},{"x":18.68,"y":554,"p":1},{"x":18.75,"y":556,"p":1},{"x":18.8,"y":554,"p":1},{"x":18.9,"y":547,"p":1},{"x":19,"y":550,"p":1},{"x":19.1,"y":547,"p":1},{"x":19.2,"y":551,"p":1},{"x":19.3,"y":546,"p":1},{"x":19.4,"y":549,"p":1},{"x":19.47,"y":547,"p":1},{"x":19.55,"y":550,"p":1},{"x":19.65,"y":553,"p":1},{"x":19.76,"y":557,"p":1},{"x":19.85,"y":561,"p":1},{"x":19.9,"y":556,"p":1},{"x":19.96,"y":551,"p":1},{"x":20.05,"y":549,"p":1},{"x":20.15,"y":547,"p":1},{"x":20.25,"y":550,"p":1},{"x":20.35,"y":546,"p":1},{"x":20.45,"y":549,"p":1},{"x":20.55,"y":547,"p":1},{"x":20.65,"y":552,"p":1},{"x":20.75,"y":548,"p":1},{"x":20.85,"y":553,"p":1},{"x":20.95,"y":557,"p":1},{"x":21.05,"y":552,"p":1},{"x":21.15,"y":555,"p":1},{"x":21.25,"y":551,"p":1},{"x":21.35,"y":549,"p":1},{"x":21.45,"y":554,"p":1},{"x":21.55,"y":550,"p":1},{"x":21.65,"y":548,"p":1},{"x":21.75,"y":552,"p":1},{"x":21.85,"y":549,"p":1},{"x":21.95,"y":551,"p":1},{"x":22,"y":556,"p":1},
{"x":16.75,"y":565,"p":1},{"x":16.85,"y":562,"p":1},{"x":16.95,"y":564,"p":1},{"x":17.05,"y":560,"p":1},{"x":17.15,"y":563,"p":1},{"x":17.25,"y":560,"p":1},{"x":17.35,"y":562,"p":1},{"x":17.44,"y":560,"p":1},{"x":17.52,"y":557,"p":1},{"x":17.59,"y":556,"p":1},{"x":17.67,"y":551,"p":1},{"x":18.26,"y":553,"p":1},{"x":18.33,"y":553,"p":1},{"x":18.4,"y":552,"p":1},{"x":18.85,"y":551,"p":1},{"x":18.95,"y":548,"p":1},{"x":19.05,"y":552,"p":1},{"x":19.15,"y":548,"p":1},{"x":19.25,"y":550,"p":1},{"x":19.35,"y":548,"p":1},{"x":19.43,"y":551,"p":1},{"x":19.51,"y":549,"p":1},{"x":19.6,"y":549,"p":1},{"x":19.7,"y":553,"p":1},{"x":20,"y":552,"p":1},{"x":20.1,"y":550,"p":1},{"x":20.2,"y":546,"p":1},{"x":20.3,"y":549,"p":1},{"x":20.4,"y":548,"p":1},{"x":20.5,"y":551,"p":1},{"x":20.6,"y":546,"p":1},{"x":20.7,"y":551,"p":1},{"x":20.8,"y":549,"p":1},{"x":20.9,"y":555,"p":1},{"x":21,"y":554,"p":1},{"x":21.1,"y":553,"p":1},{"x":21.2,"y":554,"p":1},{"x":21.3,"y":550,"p":1},{"x":21.4,"y":552,"p":1},{"x":21.5,"y":547,"p":1},{"x":21.6,"y":552,"p":1},{"x":21.7,"y":549,"p":1},{"x":21.8,"y":553,"p":1},{"x":21.9,"y":547,"p":1}],
"g":[{"x":11.97,"y":613},{"x":12,"y":615},{"x":12.1,"y":612},{"x":12.2,"y":616},{"x":12.3,"y":611},{"x":12.4,"y":615},{"x":12.5,"y":613},{"x":12.6,"y":617},{"x":12.7,"y":612},{"x":12.8,"y":616},{"x":12.88,"y":614},{"x":12.93,"y":622},{"x":13,"y":624},{"x":13.05,"y":632},{"x":13.1,"y":644},{"x":13.16,"y":664},{"x":13.22,"y":687},{"x":13.26,"y":657},{"x":13.3,"y":627},{"x":13.36,"y":616},{"x":13.45,"y":619},{"x":13.5,"y":615},{"x":13.6,"y":618},{"x":13.7,"y":613},{"x":13.8,"y":617},{"x":13.9,"y":612},{"x":14,"y":616},{"x":14.1,"y":613},{"x":14.2,"y":618},{"x":14.3,"y":614},{"x":14.4,"y":617},{"x":14.5,"y":612},{"x":14.6,"y":616},{"x":14.7,"y":613},{"x":14.79,"y":624},{"x":14.84,"y":627},{"x":14.9,"y":631},{"x":14.96,"y":651},{"x":15.02,"y":667},{"x":15.07,"y":686},{"x":15.12,"y":657},{"x":15.16,"y":624},{"x":15.22,"y":619},{"x":15.27,"y":624},{"x":15.36,"y":631},{"x":15.42,"y":640},{"x":15.48,"y":647},{"x":15.56,"y":654},{"x":15.62,"y":661},{"x":15.67,"y":688},
{"x":12.05,"y":613},{"x":12.15,"y":615},{"x":12.25,"y":614},{"x":12.35,"y":616},{"x":12.45,"y":612},{"x":12.55,"y":616},{"x":12.65,"y":613},{"x":12.75,"y":615},{"x":12.84,"y":613},{"x":13.4,"y":614},{"x":13.55,"y":618},{"x":13.65,"y":614},{"x":13.75,"y":617},{"x":13.85,"y":615},{"x":13.95,"y":614},{"x":14.05,"y":617},{"x":14.15,"y":615},{"x":14.25,"y":613},{"x":14.35,"y":618},{"x":14.45,"y":615},{"x":14.55,"y":614},{"x":14.65,"y":617},{"x":14.75,"y":619},
{"x":16.3,"y":682,"p":1},{"x":16.34,"y":644,"p":1},{"x":16.42,"y":634,"p":1},{"x":16.53,"y":631,"p":1},{"x":16.6,"y":628,"p":1},{"x":16.68,"y":624,"p":1},{"x":16.8,"y":621,"p":1},{"x":16.9,"y":625,"p":1},{"x":17,"y":620,"p":1},{"x":17.1,"y":623,"p":1},{"x":17.2,"y":619,"p":1},{"x":17.3,"y":622,"p":1},{"x":17.4,"y":618,"p":1},{"x":17.5,"y":621,"p":1},{"x":17.6,"y":619,"p":1},{"x":17.68,"y":624,"p":1},{"x":17.76,"y":629,"p":1},{"x":17.84,"y":635,"p":1},{"x":17.88,"y":641,"p":1},{"x":17.93,"y":654,"p":1},{"x":17.99,"y":681,"p":1},{"x":18.05,"y":636,"p":1},{"x":18.09,"y":626,"p":1},{"x":18.14,"y":614,"p":1},{"x":18.22,"y":619,"p":1},{"x":18.3,"y":617,"p":1},{"x":18.39,"y":619,"p":1},{"x":18.45,"y":625,"p":1},{"x":18.5,"y":629,"p":1},{"x":18.59,"y":641,"p":1},{"x":18.65,"y":635,"p":1},{"x":18.72,"y":619,"p":1},{"x":18.8,"y":617,"p":1},{"x":18.85,"y":616,"p":1},{"x":18.95,"y":614,"p":1},{"x":19.05,"y":617,"p":1},{"x":19.15,"y":612,"p":1},{"x":19.25,"y":616,"p":1},{"x":19.35,"y":613,"p":1},{"x":19.45,"y":618,"p":1},{"x":19.55,"y":614,"p":1},{"x":19.65,"y":617,"p":1},{"x":19.75,"y":612,"p":1},{"x":19.85,"y":616,"p":1},{"x":19.95,"y":613,"p":1},{"x":20.05,"y":618,"p":1},{"x":20.15,"y":614,"p":1},{"x":20.25,"y":617,"p":1},{"x":20.35,"y":612,"p":1},{"x":20.45,"y":616,"p":1},{"x":20.55,"y":613,"p":1},{"x":20.65,"y":618,"p":1},{"x":20.75,"y":615,"p":1},{"x":20.85,"y":619,"p":1},{"x":20.95,"y":614,"p":1},{"x":21.05,"y":618,"p":1},{"x":21.15,"y":615,"p":1},{"x":21.25,"y":620,"p":1},{"x":21.35,"y":616,"p":1},{"x":21.45,"y":619,"p":1},{"x":21.55,"y":615,"p":1},{"x":21.65,"y":621,"p":1},{"x":21.75,"y":617,"p":1},{"x":21.85,"y":622,"p":1},{"x":21.9,"y":624,"p":1},{"x":21.95,"y":618,"p":1},{"x":22,"y":620,"p":1},
{"x":16.74,"y":627,"p":1},{"x":16.85,"y":624,"p":1},{"x":16.95,"y":621,"p":1},{"x":17.05,"y":624,"p":1},{"x":17.15,"y":621,"p":1},{"x":17.25,"y":624,"p":1},{"x":17.35,"y":620,"p":1},{"x":17.45,"y":623,"p":1},{"x":17.55,"y":618,"p":1},{"x":17.64,"y":622,"p":1},{"x":18.18,"y":618,"p":1},{"x":18.26,"y":615,"p":1},{"x":18.34,"y":620,"p":1},{"x":18.9,"y":618,"p":1},{"x":19,"y":613,"p":1},{"x":19.1,"y":616,"p":1},{"x":19.2,"y":614,"p":1},{"x":19.3,"y":618,"p":1},{"x":19.4,"y":615,"p":1},{"x":19.5,"y":616,"p":1},{"x":19.6,"y":612,"p":1},{"x":19.7,"y":615,"p":1},{"x":19.8,"y":618,"p":1},{"x":19.9,"y":614,"p":1},{"x":20,"y":616,"p":1},{"x":20.1,"y":613,"p":1},{"x":20.2,"y":615,"p":1},{"x":20.3,"y":615,"p":1},{"x":20.4,"y":614,"p":1},{"x":20.5,"y":617,"p":1},{"x":20.6,"y":615,"p":1},{"x":20.7,"y":617,"p":1},{"x":20.8,"y":613,"p":1},{"x":20.9,"y":617,"p":1},{"x":21,"y":616,"p":1},{"x":21.1,"y":619,"p":1},{"x":21.2,"y":617,"p":1},{"x":21.3,"y":618,"p":1},{"x":21.4,"y":614,"p":1},{"x":21.5,"y":619,"p":1},{"x":21.6,"y":617,"p":1},{"x":21.7,"y":619,"p":1},{"x":21.8,"y":620,"p":1}],
"bands":[{"x":12.874,"x2":13.43,"y":0,"y2":689},{"x":14.785,"x2":15.29,"y":0,"y2":689},{"x":17.673,"x2":18.144,"y":0,"y2":689},{"x":18.307,"x2":18.855,"y":0,"y2":689}],
"minor":[{"x":12.5,"y":0,"y2":-9},{"x":13.5,"y":0,"y2":-9},{"x":14.5,"y":0,"y2":-9},{"x":15.5,"y":0,"y2":-9},{"x":16.5,"y":0,"y2":-9},{"x":17.5,"y":0,"y2":-9},{"x":18.5,"y":0,"y2":-9},{"x":19.5,"y":0,"y2":-9},{"x":20.5,"y":0,"y2":-9},{"x":21.5,"y":0,"y2":-9}],
"shaft":[{"x":10.766,"x2":11.503,"y":6,"y2":627}],
"head":[{"x":10.406,"y":627,"y2":627},{"x":11.135,"y":709,"y2":627},{"x":11.863,"y":627,"y2":627}],
"arrowtext":[{"x":11.135,"y":336,"t":"2OH4NBA composition, 0 – 100%"}],
"big":[{"x":20.141,"y":569,"t":"SS"},{"x":20.132,"y":507,"t":"SS"},{"x":20.115,"y":444,"t":"SS"},{"x":20.089,"y":380,"t":"SS"},{"x":20.072,"y":283,"t":"SS"}],
"sup":[{"x":20.158,"y":647,"t":"2OH4NBA"},{"x":20.56,"y":581,"t":"2OH4NBA"},{"x":20.543,"y":519,"t":"2OH4NBA"},{"x":20.526,"y":456,"t":"2OH4NBA"},{"x":20.5,"y":392,"t":"2OH4NBA"},{"x":20.483,"y":295,"t":"2OH4NBA"},{"x":19.009,"y":59,"t":"2C4NBA"}],
"roman":[{"x":21.195,"y":632,"t":"I"},{"x":21.597,"y":569,"t":"I"},{"x":21.589,"y":507,"t":"I"},{"x":21.572,"y":444,"t":"I"},{"x":21.546,"y":380,"t":"I"},{"x":21.537,"y":283,"t":"I"},{"x":19.849,"y":46,"t":"I"}],
"mix":[{"x":19.104,"y":219,"t":"Mixture"},{"x":19.044,"y":131,"t":"Mixture"}]
},
"encoding":{
"x":{"field":"x","type":"quantitative","scale":{"domain":[12,22],"nice":false,"zero":false},
"axis":{"values":[12,13,14,15,16,17,18,19,20,21,22],"format":"d","labelFontSize":32,"labelFontWeight":"bold","labelColor":"#000","labelPadding":3,"tickSize":12,"tickWidth":2,"tickColor":"#000","domainColor":"#000","domainWidth":2,"grid":false,"title":"2θ /deg","titleFontSize":32,"titleFontWeight":"bold","titleColor":"#000","titlePadding":8,"labelFlush":false}},
"y":{"field":"y","type":"quantitative","scale":{"domain":[0,689],"nice":false,"zero":false},"axis":null}
},
"layer":[
{"data":{"name":"shaft"},"mark":{"type":"rect","color":"#2563ab"},"encoding":{"x2":{"field":"x2"},"y2":{"field":"y2"}}},
{"data":{"name":"head"},"mark":{"type":"area","color":"#2563ab"},"encoding":{"y2":{"field":"y2"}}},
{"data":{"name":"arrowtext"},"mark":{"type":"text","color":"#ffffff","angle":270,"fontSize":37,"fontWeight":"bold","font":"Open Sans","align":"center","baseline":"middle"},"encoding":{"text":{"field":"t"}}},
{"data":{"name":"b"},"mark":{"type":"line","color":"#2f4fa2","strokeWidth":2.2},"encoding":{"detail":{"field":"p"}}},
{"data":{"name":"lg"},"mark":{"type":"line","color":"#6abd45","strokeWidth":2.2},"encoding":{"detail":{"field":"p"}}},
{"data":{"name":"c"},"mark":{"type":"line","color":"#5fc6da","strokeWidth":2.2},"encoding":{"detail":{"field":"p"}}},
{"data":{"name":"k"},"mark":{"type":"line","color":"#000000","strokeWidth":2.2},"encoding":{"detail":{"field":"p"}}},
{"data":{"name":"r"},"mark":{"type":"line","color":"#ec2227","strokeWidth":2.2},"encoding":{"detail":{"field":"p"}}},
{"data":{"name":"m"},"mark":{"type":"line","color":"#8b1a1f","strokeWidth":2.2},"encoding":{"detail":{"field":"p"}}},
{"data":{"name":"pm"},"mark":{"type":"line","color":"#c05ab4","strokeWidth":2.2},"encoding":{"detail":{"field":"p"}}},
{"data":{"name":"o"},"mark":{"type":"line","color":"#f7941d","strokeWidth":2.2},"encoding":{"detail":{"field":"p"}}},
{"data":{"name":"g"},"mark":{"type":"line","color":"#1f8a4c","strokeWidth":2.2},"encoding":{"detail":{"field":"p"}}},
{"data":{"name":"bands"},"mark":{"type":"rect","color":"#000000","opacity":0.3},"encoding":{"x2":{"field":"x2"},"y2":{"field":"y2"}}},
{"data":{"name":"minor"},"mark":{"type":"rule","color":"#000000","strokeWidth":2},"encoding":{"y2":{"field":"y2"}}},
{"data":{"name":"big"},"mark":{"type":"text","fontSize":40,"fontWeight":"bold","font":"Open Sans","align":"left","baseline":"alphabetic","color":"#000"},"encoding":{"text":{"field":"t"}}},
{"data":{"name":"sup"},"mark":{"type":"text","fontSize":24,"fontWeight":"bold","font":"Open Sans","align":"left","baseline":"alphabetic","color":"#000"},"encoding":{"text":{"field":"t"}}},
{"data":{"name":"roman"},"mark":{"type":"text","fontSize":38,"fontWeight":"bold","font":"Open Sans","align":"left","baseline":"alphabetic","color":"#000"},"encoding":{"text":{"field":"t"}}},
{"data":{"name":"mix"},"mark":{"type":"text","fontSize":41,"fontWeight":"bold","font":"Open Sans","align":"left","baseline":"alphabetic","color":"#000"},"encoding":{"text":{"field":"t"}}}
]
}
